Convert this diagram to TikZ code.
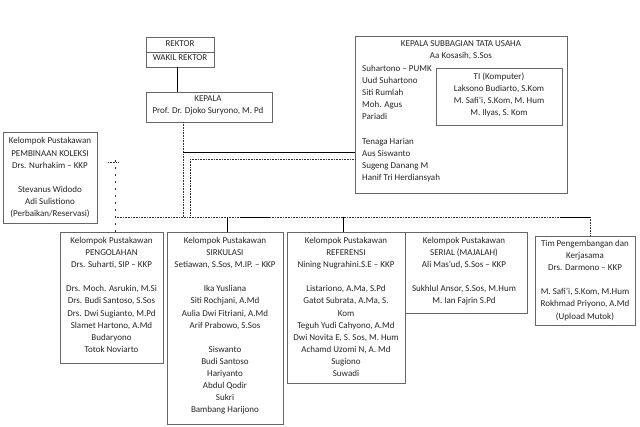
\documentclass[tikz,border=0pt]{standalone}
\usepackage{fontspec}
\setmainfont{Carlito}
\begin{document}
\begin{tikzpicture}[x=1pt,y=-1pt,
  box/.style={draw=black!60, line width=0.6pt, inner sep=0pt, anchor=north west},
  txt/.style={font=\fontsize{9}{12.1}\selectfont, text=black!85, align=center, inner sep=0pt, anchor=north},
  ltxt/.style={font=\fontsize{9}{12.1}\selectfont, text=black!85, align=left, inner sep=0pt, anchor=north west},
  conn/.style={draw=black, line width=0.7pt},
  dconn/.style={draw=black!80, line width=0.6pt, densely dotted},
  dsh/.style={draw=black!80, line width=0.6pt, dash pattern=on 2pt off 5pt}]
\fill[white] (0,0) rectangle (640,427);
\useasboundingbox (0,0) rectangle (640,427);

% Rektor
\node[box, minimum width=68pt, minimum height=30pt] (rektor) at (146,37) {};
\draw[draw=black!60, line width=0.6pt] (146,52) -- (214,52);
\node[txt] (rektorT) at (180,40.5) {REKTOR};
\node[txt] (wakilT) at (180,54.5) {WAKIL REKTOR};

% Kepala
\node[box, minimum width=126pt, minimum height=30pt] (kepala) at (146,92) {};
\node[txt] (kepalaT) at (208,95.5) {KEPALA\\Prof. Dr. Djoko Suryono, M. Pd};

% Kepala Subbagian Tata Usaha
\node[box, minimum width=212pt, minimum height=157pt] (tu) at (355,36) {};
\node[txt] (tuT) at (461,40.5) {KEPALA SUBBAGIAN TATA USAHA\\Aa Kosasih, S.Sos};
\node[ltxt] (tuL) at (362,65) {Suhartono -- PUMK\\Uud Suhartono\\Siti Rumlah\\Moh. Agus\\Pariadi\\[12.1pt]Tenaga Harian\\Aus Siswanto\\Sugeng Danang M\\Hanif Tri Herdiansyah};
\node[box, minimum width=126pt, minimum height=57pt] (ti) at (436,68) {};
\node[txt] (tiT) at (499,72.5) {TI (Komputer)\\Laksono Budiarto, S.Kom\\M. Safi'i, S.Kom, M. Hum\\M. Ilyas, S. Kom};

% Pembinaan Koleksi
\node[box, minimum width=94pt, minimum height=91pt] (bina) at (3,132) {};
\node[txt] (binaT) at (50,137.5) {Kelompok Pustakawan\\PEMBINAAN KOLEKSI\\Drs. Nurhakim -- KKP\\[12.1pt]Stevanus Widodo\\Adi Sulistiono\\(Perbaikan/Reservasi)};

% Bottom row
\node[box, minimum width=103pt, minimum height=131pt] (olah) at (60,232) {};
\node[txt] (olahT) at (111.5,237) {Kelompok Pustakawan\\PENGOLAHAN\\Drs. Suharti, SIP -- KKP\\[12.1pt]Drs. Moch. Asrukin, M.Si\\Drs. Budi Santoso, S.Sos\\Drs. Dwi Sugianto, M.Pd\\Slamet Hartono, A.Md\\Budaryono\\Totok Noviarto};

\node[box, minimum width=116pt, minimum height=192pt] (sirk) at (167,232) {};
\node[txt] (sirkT) at (225,237) {Kelompok Pustakawan\\SIRKULASI\\Setiawan, S.Sos, M.IP. -- KKP\\[12.1pt]Ika Yusliana\\Siti Rochjani, A.Md\\Aulia Dwi Fitriani, A.Md\\Arif Prabowo, S.Sos\\[12.1pt]Siswanto\\Budi Santoso\\Hariyanto\\Abdul Qodir\\Sukri\\Bambang Harijono};

\node[box, minimum width=118pt, minimum height=151pt] (ref) at (287,232) {};
\node[txt] (refT) at (346,237) {Kelompok Pustakawan\\REFERENSI\\Nining Nugrahini.S.E -- KKP\\[12.1pt]Listariono, A.Ma, S.Pd\\Gatot Subrata, A.Ma, S.\\Kom\\Teguh Yudi Cahyono, A.Md\\Dwi Novita E, S. Sos, M. Hum\\Achamd Uzomi N, A. Md\\Sugiono\\Suwadi};

\node[box, minimum width=122pt, minimum height=81pt] (serial) at (405,232) {};
\node[txt] (serialT) at (464,237) {Kelompok Pustakawan\\SERIAL (MAJALAH)\\Ali Mas'ud, S.Sos -- KKP\\[12.1pt]Sukhlul Ansor, S.Sos, M.Hum\\M. Ian Fajrin S.Pd};
\draw[draw=black!60, line width=0.6pt] (serial.south west) -- ++(0,22);

\node[box, minimum width=100pt, minimum height=89pt] (tim) at (535,236) {};
\node[txt] (timT) at (585,240) {Tim Pengembangan dan\\Kerjasama\\Drs. Darmono -- KKP\\[12.1pt]M. Safi'i, S.Kom, M.Hum\\Rokhmad Priyono, A.Md\\(Upload Mutok)};

% connectors
\coordinate (ra) at (177,67);
\coordinate (rb) at (177,92);
\coordinate (kb) at (183,122);
\coordinate (j1) at (183,152);
\coordinate (j2) at (183,217);
\coordinate (d1) at (190,159);
\coordinate (d2) at (190,217);
\coordinate (hl) at (115,217);
\coordinate (hr) at (590,217);
\coordinate (pl) at (115,160);
\coordinate (ps) at (115,232);
\coordinate (sa) at (227,217);
\coordinate (sb) at (227,232);
\coordinate (fa) at (343,217);
\coordinate (fb) at (343,232);
\coordinate (tb) at (590,236);

\draw[conn] (ra) -- (rb);
\draw[dconn] (kb) -- (j2);
\draw[conn] (j1) -- (j1 -| tu.west);
\draw[dconn] (d1) -- (d1 -| tu.west);
\draw[dconn] (d1) -- (d2);
\draw[dconn] (hl) -- (hr);
\draw[conn] (240,217) -- (270,217);
\draw[conn] (560,217) -- (590,217);
\draw[dsh] (pl) -- (ps);
\draw[dconn] (108,162) -- (118,162);
\draw[conn] (sa) -- (sb);
\draw[conn] (fa) -- (fb);
\draw[dconn] (hr) -- (tb);
\end{tikzpicture}
\end{document}
